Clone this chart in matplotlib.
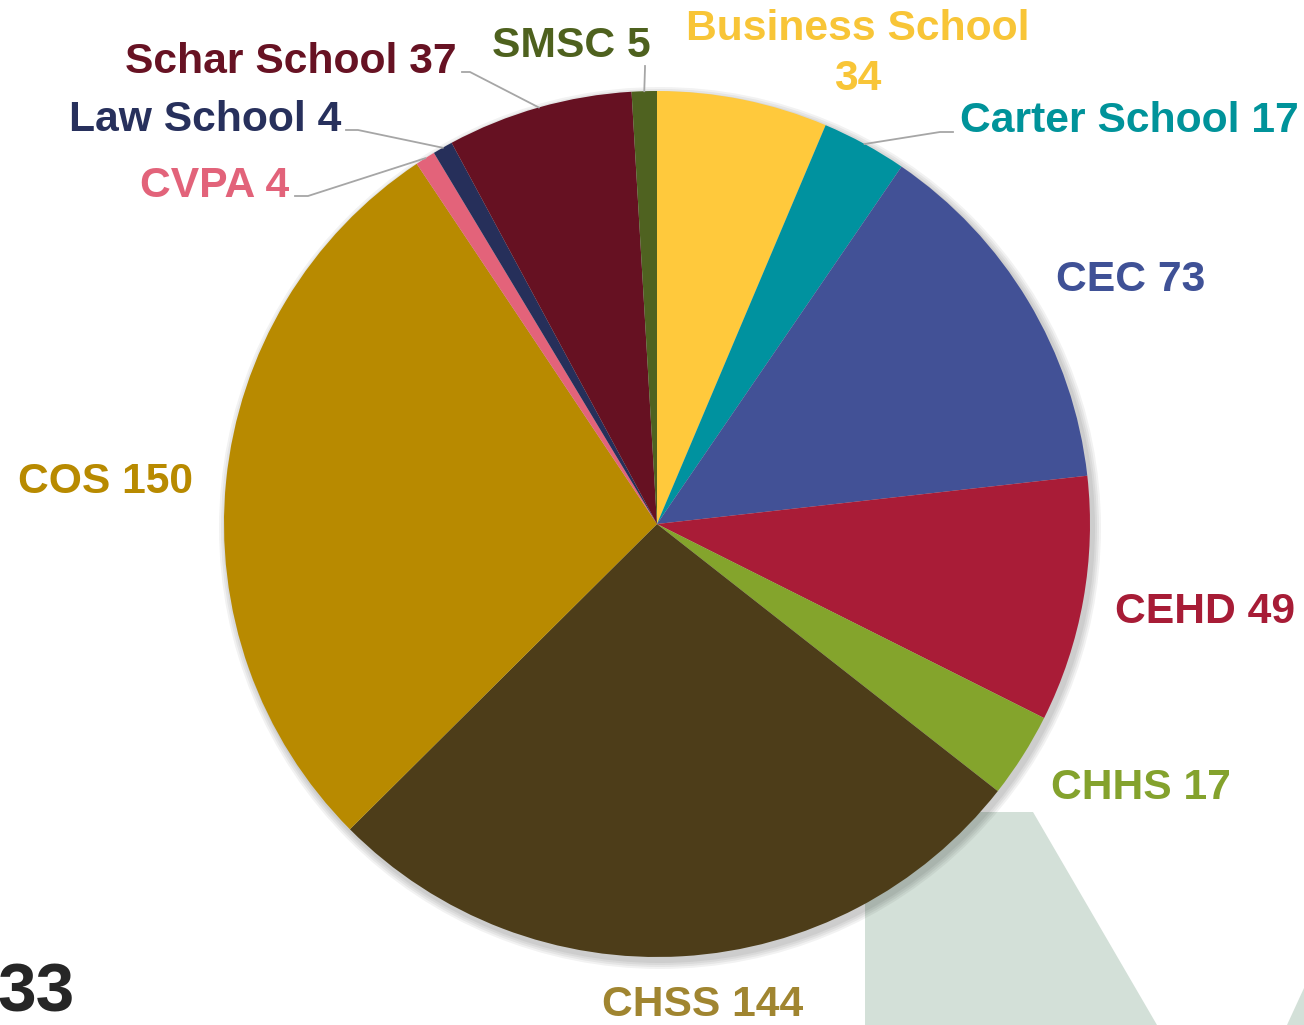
import numpy as np
import matplotlib
matplotlib.use("Agg")
from matplotlib import pyplot as plt
from matplotlib.patches import Polygon, Circle

# --------------------------------------------
# データ
# --------------------------------------------
schools = ["Business School", "Carter School", "CEC", "CEHD", "CHHS", "CHSS",
           "COS", "CVPA", "Law School", "Schar School", "SMSC"]
counts = [34, 17, 73, 49, 17, 144, 150, 4, 4, 37, 5]
wedge_colors = ["#FFC93C", "#00929F", "#425196", "#A91C37", "#84A42C", "#4D3D19",
                "#B88A00", "#E3637A", "#262F5A", "#661122", "#4F6220"]
text_colors = ["#F8C537", "#00939A", "#3F5196", "#A71C36", "#84A22D", "#A08530",
               "#B88A00", "#E2637A", "#27305C", "#671223", "#4E611E"]
label_texts = ["Business School\n34", "Carter School 17", "CEC 73", "CEHD 49", "CHHS 17",
               "CHSS 144", "COS 150", "CVPA 4", "Law School 4", "Schar School 37", "SMSC 5"]

# --------------------------------------------
# レイアウト (画像ピクセル座標, 上が0)
# --------------------------------------------
W, H = 1304, 1025
def Y(y):
    return H - y

cx, cy, R = 657, 524, 433
# ラベル位置 (x, y, ha)
label_pos = {
    "Business School": (858, 54, "center"),
    "Carter School": (960, 121, "left"),
    "CEC": (1131, 280, "center"),
    "CEHD": (1205, 612, "center"),
    "CHHS": (1141, 788, "center"),
    "CHSS": (703, 1005, "center"),
    "COS": (106, 482, "center"),
    "CVPA": (289, 186, "right"),
    "Law School": (341, 120, "right"),
    "Schar School": (457, 62, "right"),
    "SMSC": (571, 46, "center"),
}
# 引出線の始点 (ラベル側)
leader_start = {
    "Carter School": [(953, 132), (940, 132)],
    "Schar School": [(462, 72), (470, 72)],
    "SMSC": [(645, 66), (645, 68)],
    "Law School": [(346, 130), (358, 130)],
    "CVPA": [(295, 196), (308, 196)],
}

fig = plt.figure(figsize=(W / 100, H / 100), dpi=100)
ax = fig.add_axes([0, 0, 1, 1])

# 背景の図形
ax.add_patch(Polygon([(865, Y(812)), (1033, Y(812)), (1157, Y(1025)), (865, Y(1025))],
                     closed=True, facecolor="#D3E0D8", edgecolor="none", zorder=0))
ax.add_patch(Polygon([(1287, Y(1025)), (1304, Y(988)), (1304, Y(1025))],
                     closed=True, facecolor="#D3E0D8", edgecolor="none", zorder=0))

# 影
for k in range(4):
    ax.add_patch(Circle((cx + 3, Y(cy) - 4), R + 2 + 2 * k, facecolor="black",
                        edgecolor="none", alpha=0.05, zorder=1))

wedges, _ = ax.pie(counts, colors=wedge_colors, startangle=90, counterclock=False,
                   center=(cx, Y(cy)), radius=R, frame=True,
                   wedgeprops=dict(linewidth=0, edgecolor="none", antialiased=True, zorder=2))

for w, name, txt, col in zip(wedges, schools, label_texts, text_colors):
    x, y, ha = label_pos[name]
    ax.text(x, Y(y), txt, ha=ha, va="center", color=col, fontsize=30.7,
            fontweight="bold", family="Liberation Sans", linespacing=1.3, zorder=4)
    if name in leader_start:
        ang = np.deg2rad((w.theta1 + w.theta2) / 2)
        ex = cx + R * np.cos(ang)
        ey = Y(cy) + R * np.sin(ang)
        pts = [(px, Y(py)) for px, py in leader_start[name]] + [(ex, ey)]
        xs, ys = zip(*pts)
        ax.plot(xs, ys, color="#A6A6A6", linewidth=1.3, zorder=3)

# スライド番号 (元画像でも左端で切れている)
ax.text(-3, Y(993), "33", ha="left", va="center", color="#262626", fontsize=50,
        fontweight="bold", family="Liberation Sans")

ax.set_xlim(0, W)
ax.set_ylim(0, H)
ax.set_aspect("auto")
ax.axis("off")

fig.savefig("out.png", dpi=100, facecolor="white")
